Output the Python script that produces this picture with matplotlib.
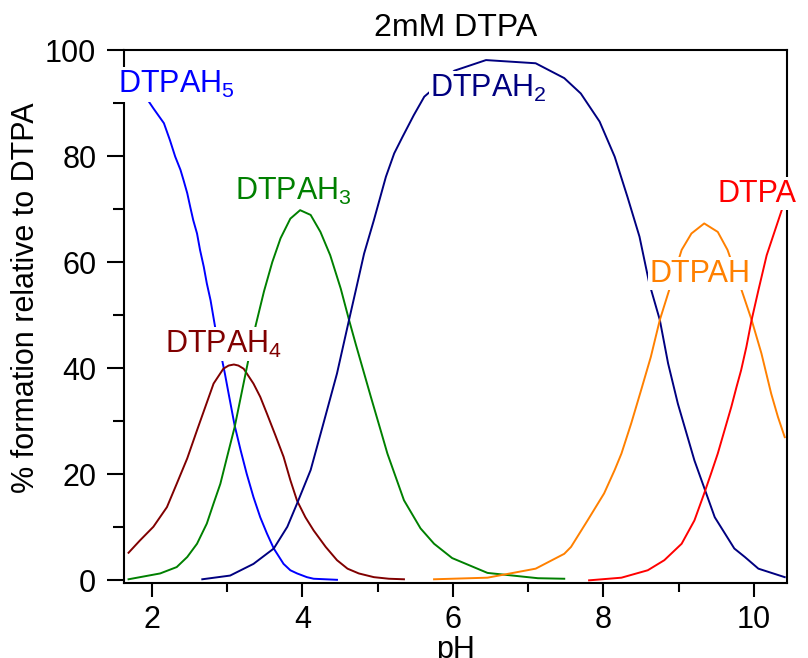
import matplotlib
matplotlib.use('Agg')
import matplotlib.pyplot as plt

plt.rcParams['font.family'] = ['Liberation Sans', 'DejaVu Sans']
plt.rcParams['mathtext.fontset'] = 'custom'
plt.rcParams['mathtext.rm'] = 'Liberation Sans'

# species distribution (pH, % formation)
ph_h5 = [1.70, 1.93, 2.02, 2.16, 2.24, 2.31, 2.38, 2.42, 2.47, 2.51, 2.55, 2.60, 2.64, 2.69, 2.73, 2.78,
         2.84, 2.93, 2.97, 3.02, 3.10, 3.18, 3.26, 3.35, 3.44, 3.53, 3.62, 3.75, 3.84, 3.93, 4.06, 4.15, 4.46]
pc_h5 = [94.5, 90.9, 89.0, 86.2, 83.0, 79.9, 77.4, 75.5, 73.0, 70.4, 67.9, 65.4, 62.3, 59.1, 56.0, 52.8,
         47.8, 41.8, 39.0, 35.2, 29.2, 24.5, 20.1, 15.7, 11.9, 8.8, 6.0, 3.1, 1.9, 1.3, 0.6, 0.3, 0.1]

ph_h4 = [1.69, 1.84, 2.02, 2.20, 2.33, 2.47, 2.60, 2.71, 2.82, 2.95, 3.02, 3.09, 3.15, 3.22, 3.35, 3.44,
         3.53, 3.64, 3.75, 3.84, 3.93, 4.04, 4.15, 4.31, 4.46, 4.60, 4.75, 4.95, 5.15, 5.35]
pc_h4 = [5.2, 7.5, 10.1, 13.8, 18.2, 23.0, 28.3, 32.7, 37.1, 39.9, 40.5, 40.7, 40.5, 39.9, 37.1, 34.6,
         31.4, 27.4, 23.3, 18.9, 15.0, 11.9, 9.4, 6.3, 3.8, 2.2, 1.3, 0.6, 0.3, 0.2]

ph_h3 = [1.69, 2.11, 2.33, 2.47, 2.60, 2.73, 2.82, 2.91, 3.00, 3.10, 3.29, 3.38, 3.49, 3.60, 3.71, 3.84,
         3.97, 4.11, 4.24, 4.37, 4.51, 4.62, 4.71, 4.91, 5.04, 5.13, 5.35, 5.57, 5.75, 5.99, 6.46, 7.13, 7.48]
pc_h3 = [0.2, 1.3, 2.5, 4.4, 6.9, 10.7, 14.5, 18.2, 23.3, 28.9, 42.1, 48.1, 54.5, 60.0, 64.5, 68.2,
         69.8, 68.9, 65.7, 61.3, 55.0, 49.1, 44.5, 34.6, 28.3, 23.9, 15.1, 9.8, 6.9, 4.2, 1.4, 0.4, 0.3]

ph_h2 = [2.67, 3.04, 3.35, 3.62, 3.80, 3.93, 4.11, 4.28, 4.46, 4.62, 4.71, 4.82, 4.95, 5.11, 5.22, 5.33,
         5.48, 5.62, 6.02, 6.44, 7.10, 7.48, 7.70, 7.95, 8.15, 8.32, 8.48, 8.61, 8.75, 8.86, 8.99, 9.21,
         9.48, 9.74, 9.88, 10.06, 10.41]
pc_h2 = [0.2, 0.9, 3.1, 6.0, 10.1, 14.5, 20.8, 29.6, 39.0, 49.1, 54.7, 61.6, 67.9, 76.1, 80.5, 83.6,
         87.7, 91.2, 96.1, 98.1, 97.5, 94.7, 91.8, 86.5, 79.9, 72.3, 64.8, 56.0, 49.1, 40.9, 33.3, 22.6,
         11.9, 6.0, 4.4, 2.2, 0.6]

ph_h1 = [5.75, 6.46, 7.10, 7.48, 7.57, 7.79, 8.01, 8.15, 8.24, 8.37, 8.50, 8.63, 8.75, 8.88, 9.04, 9.17,
         9.34, 9.52, 9.65, 9.83, 9.97, 10.10, 10.23, 10.32, 10.41]
pc_h1 = [0.2, 0.5, 2.2, 5.0, 6.3, 11.3, 16.4, 20.8, 23.9, 29.6, 35.8, 42.1, 49.1, 55.0, 62.3, 65.4,
         67.3, 65.7, 62.3, 55.0, 49.1, 42.8, 35.2, 30.8, 27.0]

ph_l = [7.81, 8.24, 8.59, 8.81, 9.04, 9.21, 9.34, 9.43, 9.52, 9.61, 9.70, 9.77, 9.83, 9.90, 9.97, 10.06,
        10.17, 10.37, 10.42]
pc_l = [0.0, 0.5, 1.9, 3.8, 6.9, 11.3, 16.4, 20.1, 23.9, 28.3, 32.7, 36.5, 39.6, 44.0, 49.1, 54.7,
        61.3, 69.8, 71.5]

fig = plt.figure(figsize=(8.08, 6.58), dpi=100)
ax = fig.add_axes([0.1535, 0.114, 0.8205, 0.81])

lw = 1.4
ax.plot(ph_h5, pc_h5, color='#0000ff', lw=lw)
ax.plot(ph_h4, pc_h4, color='#800000', lw=lw)
ax.plot(ph_h3, pc_h3, color='#008000', lw=lw)
ax.plot(ph_h2, pc_h2, color='#000080', lw=lw)
ax.plot(ph_h1, pc_h1, color='#ff8000', lw=lw)
ax.plot(ph_l, pc_l, color='#ff0000', lw=lw)

box = dict(facecolor='white', edgecolor='none', pad=1)
fs = 22
ax.text(1.55, 91.9, r'DTPAH$_\mathregular{5}$', color='#0000ff', fontsize=fs, bbox=box, zorder=5, clip_on=False)
ax.text(2.18, 42.9, r'DTPAH$_\mathregular{4}$', color='#800000', fontsize=fs, bbox=box, zorder=5)
ax.text(3.11, 71.8, r'DTPAH$_\mathregular{3}$', color='#008000', fontsize=fs, bbox=box, zorder=5)
ax.text(5.70, 91.2, r'DTPAH$_\mathregular{2}$', color='#000080', fontsize=fs, bbox=box, zorder=5)
ax.text(8.61, 56.3, 'DTPAH', color='#ff8000', fontsize=fs, bbox=box, zorder=5)
ax.text(9.52, 71.4, 'DTPA', color='#ff0000', fontsize=fs, bbox=box, zorder=5, clip_on=False)

ax.set_xlim(1.63, 10.44)
ax.set_ylim(-0.5, 100)
ax.set_xticks([2, 4, 6, 8, 10])
ax.set_xticks([3, 5, 7, 9], minor=True)
ax.set_yticks([0, 20, 40, 60, 80, 100])
ax.set_yticks([10, 30, 50, 70, 90], minor=True)
ax.tick_params(axis='y', which='major', length=12, width=1.5, pad=8, labelsize=22)
ax.tick_params(axis='y', which='minor', length=8, width=1.5)
ax.tick_params(axis='x', which='major', length=10, width=1.5, pad=6, labelsize=22)
ax.tick_params(axis='x', which='minor', length=6.5, width=1.5)
for s in ax.spines.values():
    s.set_linewidth(1.5)

ax.set_title('2mM DTPA', fontsize=23, pad=10)
ax.set_xlabel('pH', fontsize=22, labelpad=0)
ax.set_ylabel('% formation relative to DTPA', fontsize=22)
ax.yaxis.set_label_coords(-0.125, 0.535)

fig.savefig('out.png', dpi=100)
